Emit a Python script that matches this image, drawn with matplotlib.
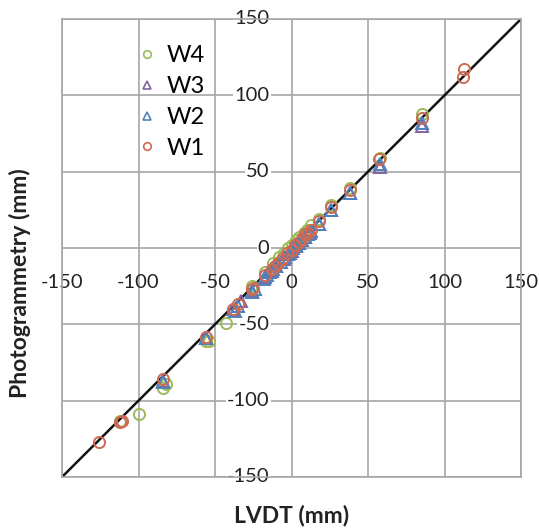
import numpy as np
import matplotlib
matplotlib.use("Agg")
import matplotlib.pyplot as plt
from matplotlib.lines import Line2D

plt.rcParams['font.family'] = ['Lato', 'DejaVu Sans']

# LVDT vs photogrammetry readings (mm)
w4_x = [-112, -100, -84, -82, -56, -54, -43, -26, -17, -12, -8, -5, -2, 0, 3, 5, 8, 10, 13, 18, 26, 38, 58, 85]
w4_y = [-113, -109, -92, -89, -61, -61, -49, -25, -16, -10, -6, -3, 0, 2, 5, 7, 10, 12, 15, 19, 28, 39, 59, 88]
w3_x = [-84, -56, -38, -33, -26, -17, -13, -10, -5, -2, 0, 3, 5, 9, 12, 18, 26, 38, 58, 85]
w3_y = [-87, -59, -40, -35, -28, -19, -15, -12, -7, -4, -2, 1, 3, 7, 10, 16, 25, 36, 53, 80]
w2_x = [-84, -56, -37, -35, -26, -24, -18, -16, -14, -12, -10, -7, -4, -1, 1, 3, 5, 7, 9, 11, 13, 18, 26, 38, 58, 85]
w2_y = [-88, -59, -41, -38, -29, -27, -20, -18, -16, -14, -12, -9, -6, -3, 0, 2, 3, 5, 7, 9, 11, 16, 25, 36, 55, 82]
w1_x = [-126, -112, -111, -84, -56, -38, -35, -26, -25, -17, -13, -11, -9, -6, -3, 0, 2, 5, 7, 9, 11, 13, 18, 26, 38, 57, 85, 112, 113]
w1_y = [-127, -114, -113, -86, -58, -40, -37, -27, -26, -18, -14, -12, -10, -7, -3, -1, 2, 4, 6, 9, 10, 12, 18, 27, 38, 58, 85, 112, 117]

line_x = [-150, 150]
line_y = [-150, 150]
ticks = [-150, -100, -50, 0, 50, 100, 150]

series = [
    ("W4", w4_x, w4_y, "o", "#9BBB59"),
    ("W3", w3_x, w3_y, "^", "#8064A2"),
    ("W2", w2_x, w2_y, "^", "#4F81BD"),
    ("W1", w1_x, w1_y, "o", "#CD6A52"),
]

W, H = 539, 532
fig = plt.figure(figsize=(W / 100, H / 100), dpi=100)
ax = fig.add_axes([62 / W, 1 - 477 / H, (521 - 62) / W, (477 - 19) / H])

grid_c = "#A6A6A6"
ax.set_xlim(-150, 150)
ax.set_ylim(-150, 150)
ax.set_xticks(ticks)
ax.set_yticks(ticks)
ax.tick_params(length=0, labelbottom=False, labelleft=False)
ax.grid(True, color=grid_c, lw=1.2, zorder=0)
ax.set_axisbelow(True)
for s in ax.spines.values():
    s.set_color(grid_c)
    s.set_linewidth(1.2)

# tick labels sit on the axes that cross at zero
for t in ticks:
    ax.annotate(str(t), xy=(t, 0), xytext=(0, -34), textcoords="offset pixels",
                ha="center", va="center", fontsize=14.5, color="#222222", zorder=1)
    ax.annotate(str(t), xy=(0, t), xytext=(-22, 0), textcoords="offset pixels",
                ha="right", va="center", fontsize=14.5, color="#222222", zorder=1,
                bbox=dict(boxstyle="square,pad=0.05", fc="white", ec="none"))

ax.plot(line_x, line_y, color="#111111", lw=1.8, zorder=2)

for name, xs, ys, mk, c in series:
    ax.plot(xs, ys, ls="none", marker=mk, ms=8, mfc="none", mec=c, mew=1.4,
            label=name, zorder=3)

handles = [Line2D([], [], ls="none", marker=mk, ms=5.5, mfc="none", mec=c, mew=1.2)
           for _, _, _, mk, c in series]
ax.legend(handles, [s[0] for s in series], loc="upper left",
          bbox_to_anchor=(138 / W, 1 - 45 / H), bbox_transform=fig.transFigure,
          frameon=False, fontsize=17, handlelength=0.8, handletextpad=0.4,
          labelspacing=0.42, borderpad=0, borderaxespad=0)

fig.text(292 / W, 1 - 516 / H, "LVDT (mm)", ha="center", va="center",
         fontsize=16.5, fontweight="bold", color="#222222")
fig.text(20 / W, 1 - 283 / H, "Photogrammetry (mm)", ha="center", va="center",
         rotation=90, fontsize=16.5, fontweight="bold", color="#222222")

fig.savefig("out.png", dpi=100)
